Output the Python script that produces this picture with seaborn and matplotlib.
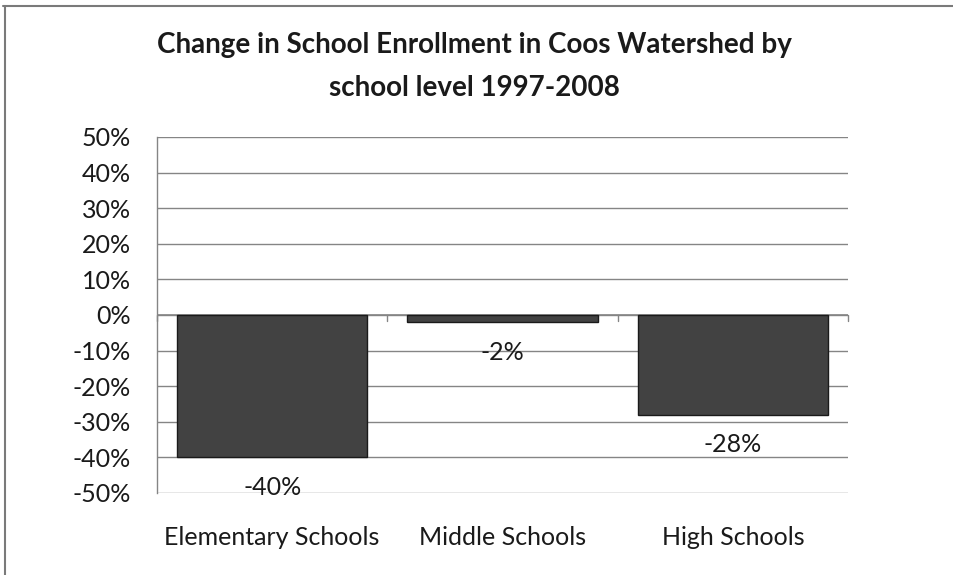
import matplotlib
matplotlib.use("Agg")
import matplotlib.pyplot as plt
import seaborn as sns
import pandas as pd
from matplotlib.lines import Line2D
from matplotlib.ticker import FuncFormatter, MultipleLocator

# Enrollment change by school level, 1997-2008
levels = ["Elementary Schools", "Middle Schools", "High Schools"]
change_pct = [-40, -2, -28]
title_text = "Change in School Enrollment in Coos Watershed by\nschool level 1997-2008"

df = pd.DataFrame({"level": levels, "change": change_pct})

sns.set_theme(style="white")
plt.rcParams["font.family"] = ["Lato", "DejaVu Sans"]

fig = plt.figure(figsize=(9.54, 5.75), dpi=100)
ax = fig.add_axes([157 / 954, 1 - 493 / 575, (848 - 157) / 954, (493 - 137) / 575])

sns.barplot(data=df, x="level", y="change", color="#424242", width=0.825,
            edgecolor="#1a1a1a", linewidth=1.0, saturation=1, ax=ax, zorder=3)

ax.set_xlim(-0.5, len(levels) - 0.5)
ax.set_ylim(-50, 50)
ax.yaxis.set_major_locator(MultipleLocator(10))
ax.yaxis.set_major_formatter(FuncFormatter(lambda v, _: f"{v:.0f}%"))
ax.grid(axis="y", color="#858585", linewidth=1.0, zorder=0)
ax.set_axisbelow(True)
ax.set_xlabel("")
ax.set_ylabel("")

for side in ["top", "right", "bottom"]:
    ax.spines[side].set_visible(False)
ax.spines["left"].set_color("#858585")
ax.spines["left"].set_linewidth(1.0)

ax.tick_params(axis="y", direction="out", length=5, width=1.0, color="#858585",
               pad=14, labelsize=18, labelcolor="#1a1a1a")

# Category axis crosses at zero with tick marks between categories
ax.axhline(0, color="#858585", linewidth=1.2, zorder=2)
boundaries = [i - 0.5 for i in range(len(levels) + 1)]
for b in boundaries:
    ax.plot([b, b], [0, -1.6], color="#858585", linewidth=1.0, zorder=2, clip_on=False)

# Category labels sit below the plot area
ax.set_xticks([])
xform = ax.get_xaxis_transform()
for i, name in enumerate(levels):
    ax.text(i, -0.125, name, transform=xform, ha="center", va="center",
            fontsize=18, color="#1a1a1a")

# Value labels beneath each bar end
for i, v in enumerate(change_pct):
    ax.annotate(f"{v}%", xy=(i, v), xytext=(0, -30), textcoords="offset pixels",
                ha="center", va="center", fontsize=18, color="#1a1a1a", zorder=4)

fig.text(0.497, 1 - 66.5 / 575, title_text, ha="center", va="center",
         fontsize=20, fontweight="bold", color="#1a1a1a", linespacing=1.8)

# Chart frame
fig.add_artist(Line2D([5 / 954, 5 / 954], [0, 1 - 6 / 575], transform=fig.transFigure,
                      color="#7a7a7a", linewidth=1.5))
fig.add_artist(Line2D([3 / 954, 1], [1 - 6 / 575, 1 - 6 / 575], transform=fig.transFigure,
                      color="#7a7a7a", linewidth=1.5))

fig.savefig("out.png", dpi=100)
